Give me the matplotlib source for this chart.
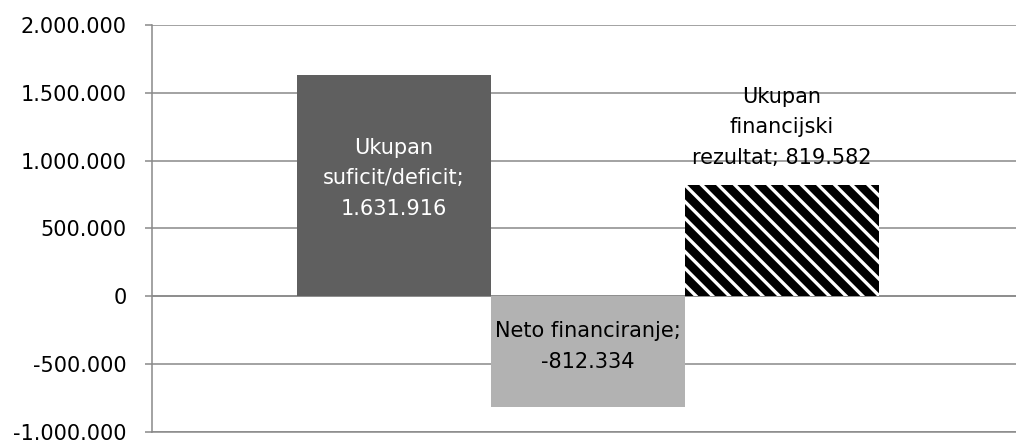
import matplotlib.pyplot as plt
import matplotlib.ticker as mticker
import numpy as np

# Data
categories = ['Ukupan\nsuficit/deficit', 'Neto financiranje', 'Ukupan\nfinancijski\nrezultat']
values = [1631916, -812334, 819582]
label_texts = ['Ukupan\nsuficit/deficit;\n1.631.916',
               'Neto financiranje;\n-812.334',
               'Ukupan\nfinancijski\nrezultat; 819.582']
y_ticks = [-1000000, -500000, 0, 500000, 1000000, 1500000, 2000000]

plt.rcParams['font.family'] = ['DejaVu Sans']
plt.rcParams['hatch.linewidth'] = 2.4

grid_col = '#898989'

fig = plt.figure(figsize=(10.16, 4.44), dpi=100)
ax = fig.add_axes([152 / 1016, 12 / 444, 872 / 1016, 407 / 444])

x = np.arange(len(values))
ax.bar(x[0], values[0], width=1.0, color='#5f5f5f', zorder=3)
ax.bar(x[1], values[1], width=1.0, color='#b2b2b2', zorder=3)
ax.bar(x[2], values[2], width=1.0, color='black', edgecolor='white',
       linewidth=0, hatch='\\\\', zorder=3)

ax.set_xlim(-1.247, 3.247)
ax.set_ylim(-1000000, 2000000)
ax.set_yticks(y_ticks)
ax.yaxis.set_major_formatter(mticker.FuncFormatter(
    lambda v, p: '{:,.0f}'.format(v).replace(',', '.')))
ax.set_xticks([])

ax.grid(axis='y', color=grid_col, linewidth=1.1, zorder=1)
ax.axhline(0, color=grid_col, linewidth=1.1, zorder=2)
for s in ['top', 'right']:
    ax.spines[s].set_visible(False)
for s in ['left', 'bottom']:
    ax.spines[s].set_color(grid_col)
    ax.spines[s].set_linewidth(1.1)
ax.tick_params(axis='y', direction='out', length=5, width=1.1, color=grid_col,
               pad=13, labelsize=15, labelcolor='black')

# data labels
ax.text(x[0], 870000, label_texts[0], ha='center', va='center',
        color='white', fontsize=15, linespacing=1.65, zorder=4)
ax.text(x[1], -370000, label_texts[1], ha='center', va='center',
        color='black', fontsize=15, linespacing=1.65, zorder=4)
ax.text(x[2], 1245000, label_texts[2], ha='center', va='center',
        color='black', fontsize=15, linespacing=1.65, zorder=2)

fig.savefig('out.png', dpi=100)
